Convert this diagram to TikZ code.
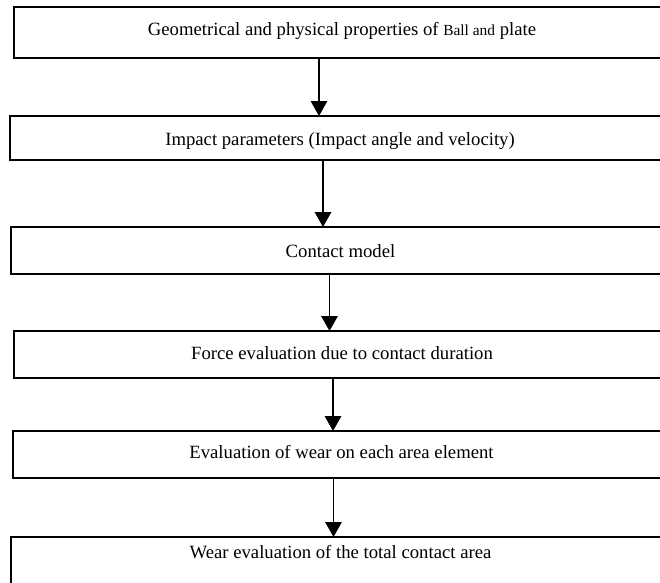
\documentclass[tikz,border=0pt]{standalone}
\usepackage{fontspec}
\setmainfont{Liberation Serif}
\usetikzlibrary{%
	positioning,
	calc,
	arrows.meta
}

\begin{document}
\begin{tikzpicture}[
		x=1pt,y=-1pt,
		stepbox/.style={draw,line width=1.3pt,shape=rectangle,anchor=north west,inner ysep=0pt,outer sep=0pt,
			font=\fontsize{18.7}{22}\selectfont,text height=28pt,text depth=19pt},
		flow/.style={line width=1.6pt,-{Triangle[width=16.5pt,length=15pt]}}
	]
	
	\useasboundingbox (0,0) rectangle (660,582);
	\clip (0,0) rectangle (660,582);
	
		%boxes
		\node(geom) [stepbox, minimum width=656pt, text depth=23pt] at (14,7) {Geometrical and physical properties of {\fontsize{15.4}{18}\selectfont Ball and} plate};
		\node(impact) [stepbox, minimum width=660pt, text height=29pt, text depth=15pt] at (10,116) {Impact parameters (Impact angle and velocity)};
		\node(contact) [stepbox, minimum width=659pt, text height=30pt, text depth=17pt] at (11,227) {Contact model};
		\node(force) [stepbox, minimum width=656pt] at (14,331) {Force evaluation due to contact duration};
		\node(wear) [stepbox, minimum width=657pt, text height=27pt, text depth=20pt] at (13,431) {Evaluation of wear on each area element};
		\node(total) [stepbox, minimum width=659pt, text height=21pt, text depth=30pt] at (11,537) {Wear evaluation of the total contact area};
		
		%arrows
		\draw [flow] ([xshift=-23pt]geom.south) -- ([xshift=-23pt]geom.south |- impact.north);
		\draw [flow] ([xshift=-17pt]impact.south) -- ([xshift=-17pt]impact.south |- contact.north);
		\draw [flow] ([xshift=-11pt]contact.south) -- ([xshift=-11pt]contact.south |- force.north);
		\draw [flow] ([xshift=-9pt]force.south) -- ([xshift=-9pt]force.south |- wear.north);
		\draw [flow] ([xshift=-8pt]wear.south) -- ([xshift=-8pt]wear.south |- total.north);
		
\end{tikzpicture}
\end{document}
